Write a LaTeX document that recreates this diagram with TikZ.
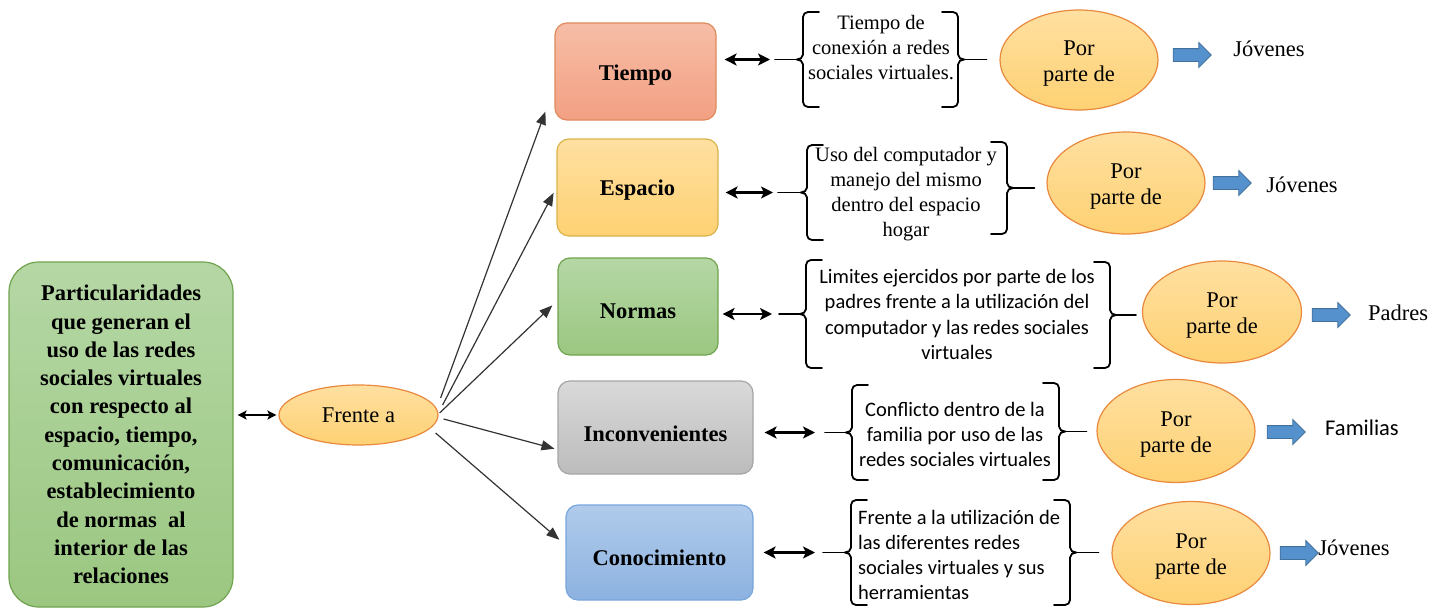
\documentclass[tikz,border=0pt]{standalone}
\usepackage{fontspec}
\setmainfont{Liberation Serif}
\newfontfamily\calibri{Carlito}
\usetikzlibrary{arrows.meta,positioning,shapes.geometric,shapes.arrows,calc}

\definecolor{grnA}{HTML}{B5D7A5}
\definecolor{grnB}{HTML}{9BC781}
\definecolor{grnL}{HTML}{70A34E}
\definecolor{salA}{HTML}{F6BDA6}
\definecolor{salB}{HTML}{F3A083}
\definecolor{salL}{HTML}{DE8A5C}
\definecolor{ylwA}{HTML}{FFE0A1}
\definecolor{ylwB}{HTML}{FED173}
\definecolor{ylwL}{HTML}{D9B24A}
\definecolor{gryA}{HTML}{D9D9D9}
\definecolor{gryB}{HTML}{BCBCBC}
\definecolor{gryL}{HTML}{A5A5A5}
\definecolor{bluA}{HTML}{B0CBEB}
\definecolor{bluB}{HTML}{8DB2E0}
\definecolor{bluL}{HTML}{78A6DC}
\definecolor{ovlL}{HTML}{E8893E}
\definecolor{arwF}{HTML}{5591CC}
\definecolor{arwL}{HTML}{41719C}

\tikzset{%
   cat/.style={
      rectangle,
      rounded corners=12pt,
      line width=1.2pt,
      inner sep=0pt,
      font=\fontsize{22.5}{27}\selectfont\bfseries
   },
   head/.style={
      cat,
      text depth=0pt
   },
   ovl/.style={
      ellipse,
      draw=ovlL,
      line width=1.2pt,
      top color=ylwA,
      bottom color=ylwB,
      inner sep=0pt,
      align=center,
      font=\fontsize{22.5}{26}\selectfont
   },
   por/.style={
      ovl,
      text height=48pt
   },
   txt/.style={
      inner sep=0pt,
      align=center,
      font=\fontsize{20.5}{25}\selectfont
   },
   lbl/.style={
      inner sep=0pt,
      font=\fontsize{22.5}{26}\selectfont
   },
   blk/.style={
      single arrow,
      draw=arwL,
      fill=arwF,
      line width=0.8pt,
      inner xsep=0pt,
      inner ysep=6pt,
      single arrow head extend=6pt,
      minimum height=38pt
   },
   brk/.style={
      line width=1.8pt,
      line cap=round
   },
   fr/.style={
      draw=black!80,
      line width=1.2pt,
      -{Triangle[length=13pt,width=10pt]}
   },
   dbl/.style={
      line width=2.8pt,
      {Stealth[length=12pt,width=12pt,inset=3pt]}-{Stealth[length=12pt,width=12pt,inset=3pt]}
   },
}
% left and right brackets: x, top, bottom, name of the tip
\newcommand\bracL[4]{%
  \draw[brk] (#1+16,#2) -- (#1+5,#2) to[out=180,in=90] (#1,#2+5)
    -- (#1,{(#2+#3)/2-5}) to[out=-90,in=0] ({#1-6},{(#2+#3)/2}) coordinate (#4)
    to[out=0,in=90] (#1,{(#2+#3)/2+5}) -- (#1,#3-5) to[out=-90,in=180] (#1+5,#3) -- (#1+16,#3);%
}
\newcommand\bracR[4]{%
  \draw[brk] (#1-16,#2) -- (#1-5,#2) to[out=0,in=90] (#1,#2+5)
    -- (#1,{(#2+#3)/2-5}) to[out=-90,in=180] ({#1+6},{(#2+#3)/2}) coordinate (#4)
    to[out=180,in=90] (#1,{(#2+#3)/2+5}) -- (#1,#3-5) to[out=-90,in=0] (#1-5,#3) -- (#1-16,#3);%
}

\begin{document}
\begin{tikzpicture}[x=1pt, y=-1pt]
  \useasboundingbox (0,0) rectangle (1446,608);

  % main box and "Frente a"
  \node[cat, rounded corners=30pt, draw=grnL, top color=grnA, bottom color=grnB,
        minimum width=224pt, minimum height=345pt, align=center,
        font=\fontsize{22.5}{28.3}\selectfont\bfseries] (part) at (121,434.5)
    {Particularidades\\que generan el\\uso de las redes\\sociales virtuales\\con respecto al\\espacio, tiempo,\\comunicación,\\establecimiento\\de normas \ al\\interior de las\\relaciones};
  \node[ovl, minimum width=159pt, minimum height=60pt] (frente) at (358.5,415) {Frente a};
  \draw[line width=1.6pt, {Stealth[length=9pt,width=9pt,inset=2pt]}-{Stealth[length=9pt,width=9pt,inset=2pt]},
        shorten <=4pt, shorten >=2pt] (part.east |- frente) -- (frente);

  % categories
  \node[head, text height=18pt, draw=salL, top color=salA, bottom color=salB, minimum width=161pt, minimum height=97pt] (tiempo) at (635.5,71.5) {Tiempo};
  \node[head, text height=15pt, draw=ylwL, top color=ylwA, bottom color=ylwB, minimum width=161pt, minimum height=97pt] (espacio) at (637.5,187.5) {Espacio};
  \node[head, text height=24pt, draw=grnL, top color=grnA, bottom color=grnB, minimum width=160pt, minimum height=97pt] (normas) at (638,306.5) {Normas};
  \node[head, text height=28pt, draw=gryL, top color=gryA, bottom color=gryB, minimum width=195pt, minimum height=93pt] (incon) at (655.5,427.5) {Inconvenientes};
  \node[head, text height=26pt, draw=bluL, top color=bluA, bottom color=bluB, minimum width=187pt, minimum height=95pt] (conoc) at (659.5,552.5) {Conocimiento};

  \draw[fr] ([xshift=2pt,yshift=17pt]frente.east) -- ([xshift=-9pt,yshift=9pt]tiempo.south west);
  \draw[fr, shorten >=6pt] ([xshift=4pt,yshift=10pt]frente.east) -- (espacio.west);
  \draw[fr, shorten >=7pt] ([xshift=1pt,yshift=2pt]frente.east) -- ([yshift=6pt]normas.west);
  \draw[fr, shorten >=3pt] ([xshift=5pt,yshift=-4pt]frente.east) -- ([yshift=-22pt]incon.west);
  \draw[fr, shorten >=8pt] ([xshift=-3pt,yshift=-18pt]frente.east) -- ([yshift=7.5pt]conoc.west);

  % descriptions
  \node[txt] (tiempoT) at (881,48) {Tiempo de\\conexión a redes\\sociales virtuales.};
  \node[txt] (espacioT) at (906,194) {Uso del computador y\\manejo del mismo\\dentro del espacio\\hogar};
  \node[txt, font=\fontsize{20.5}{25.3}\selectfont\calibri] (normasT) at (957,314.5)
    {Limites ejercidos por parte de los\\padres frente a la utilización del\\computador y las redes sociales\\virtuales};
  \node[txt, font=\fontsize{20.5}{25}\selectfont\calibri] (inconT) at (955,434)
    {Conflicto dentro de la\\familia por uso de las\\redes sociales virtuales};
  \node[txt, anchor=west, align=left, font=\fontsize{20.5}{25}\selectfont\calibri] (conocT) at (858,554.5)
    {Frente a la utilización de\\las diferentes redes\\sociales virtuales y sus\\herramientas};

  % brackets
  \bracL{803}{12}{107}{tB}
  \bracR{958}{12}{107}{tC}
  \bracL{807}{145}{240}{eB}
  \bracR{1007}{142}{234}{eC}
  \bracL{806}{260}{368}{nB}
  \bracR{1110}{262}{368}{nC}
  \bracL{852}{385}{480}{iB}
  \bracR{1059}{383}{480}{iC}
  \bracL{851}{500}{605}{cB}
  \bracR{1070}{500}{605}{cC}

  \coordinate[left=22pt of tB] (tS);
  \coordinate[left=23pt of eB] (eS);
  \coordinate[left=21pt of nB] (nS);
  \coordinate[left=21pt of iB] (iS);
  \coordinate[left=22pt of cB] (cS);
  \draw[brk] (tS) -- (tB);
  \draw[brk] (eS) -- (eB);
  \draw[brk] (nS) -- (nB);
  \draw[brk] (iS) -- (iB);
  \draw[brk] (cS) -- (cB);

  \draw[dbl, shorten <=8pt, shorten >=5pt] (tiempo.east |- tS) -- (tS);
  \draw[dbl, shorten <=7pt, shorten >=5pt] (espacio.east |- eS) -- (eS);
  \draw[dbl, shorten <=4pt, shorten >=7pt] (normas.east |- nS) -- (nS);
  \draw[dbl, shorten <=11pt, shorten >=10pt] (incon.east |- iS) -- (iS);
  \draw[dbl, shorten <=10pt, shorten >=8pt] (conoc.east |- cS) -- (cS);

  % "Por parte de"
  \node[por, minimum width=158pt, minimum height=100pt] (por1) at (1079,60) {Por\\parte de};
  \node[por, minimum width=158pt, minimum height=102pt] (por2) at (1126,183) {Por\\parte de};
  \node[por, minimum width=159pt, minimum height=102pt] (por3) at (1222,312) {Por\\parte de};
  \node[por, minimum width=158pt, minimum height=103pt] (por4) at (1176,431) {Por\\parte de};
  \node[por, minimum width=158pt, minimum height=103pt] (por5) at (1191,553) {Por\\parte de};

  \draw[brk, shorten >=13pt] (tC) -- (tC -| por1.west);
  \draw[brk, shorten >=12pt] (eC) -- (eC -| por2.west);
  \draw[brk, shorten >=6pt] (nC) -- (nC -| por3.west);
  \draw[brk, shorten >=10pt] (iC) -- (iC -| por4.west);
  \draw[brk, shorten >=13pt] (cC) -- (cC -| por5.west);

  % who
  \node[blk] (a1) at (1189,55) {};
  \node[blk] (a2) at (1229,183) {};
  \node[blk] (a3) at (1328,315) {};
  \node[blk] (a4) at (1283,432) {};
  \node[blk] (a5) at (1296,553) {};
  \node[lbl] (j1) at (1269,49) {Jóvenes};
  \node[lbl] (j2) at (1302,185) {Jóvenes};
  \node[lbl] (pa) at (1398,313) {Padres};
  \node[lbl, font=\fontsize{22.5}{26}\selectfont\calibri] (fa) at (1362,428) {Familias};
  \node[lbl] (j5) at (1354,548) {Jóvenes};
\end{tikzpicture}
\end{document}
